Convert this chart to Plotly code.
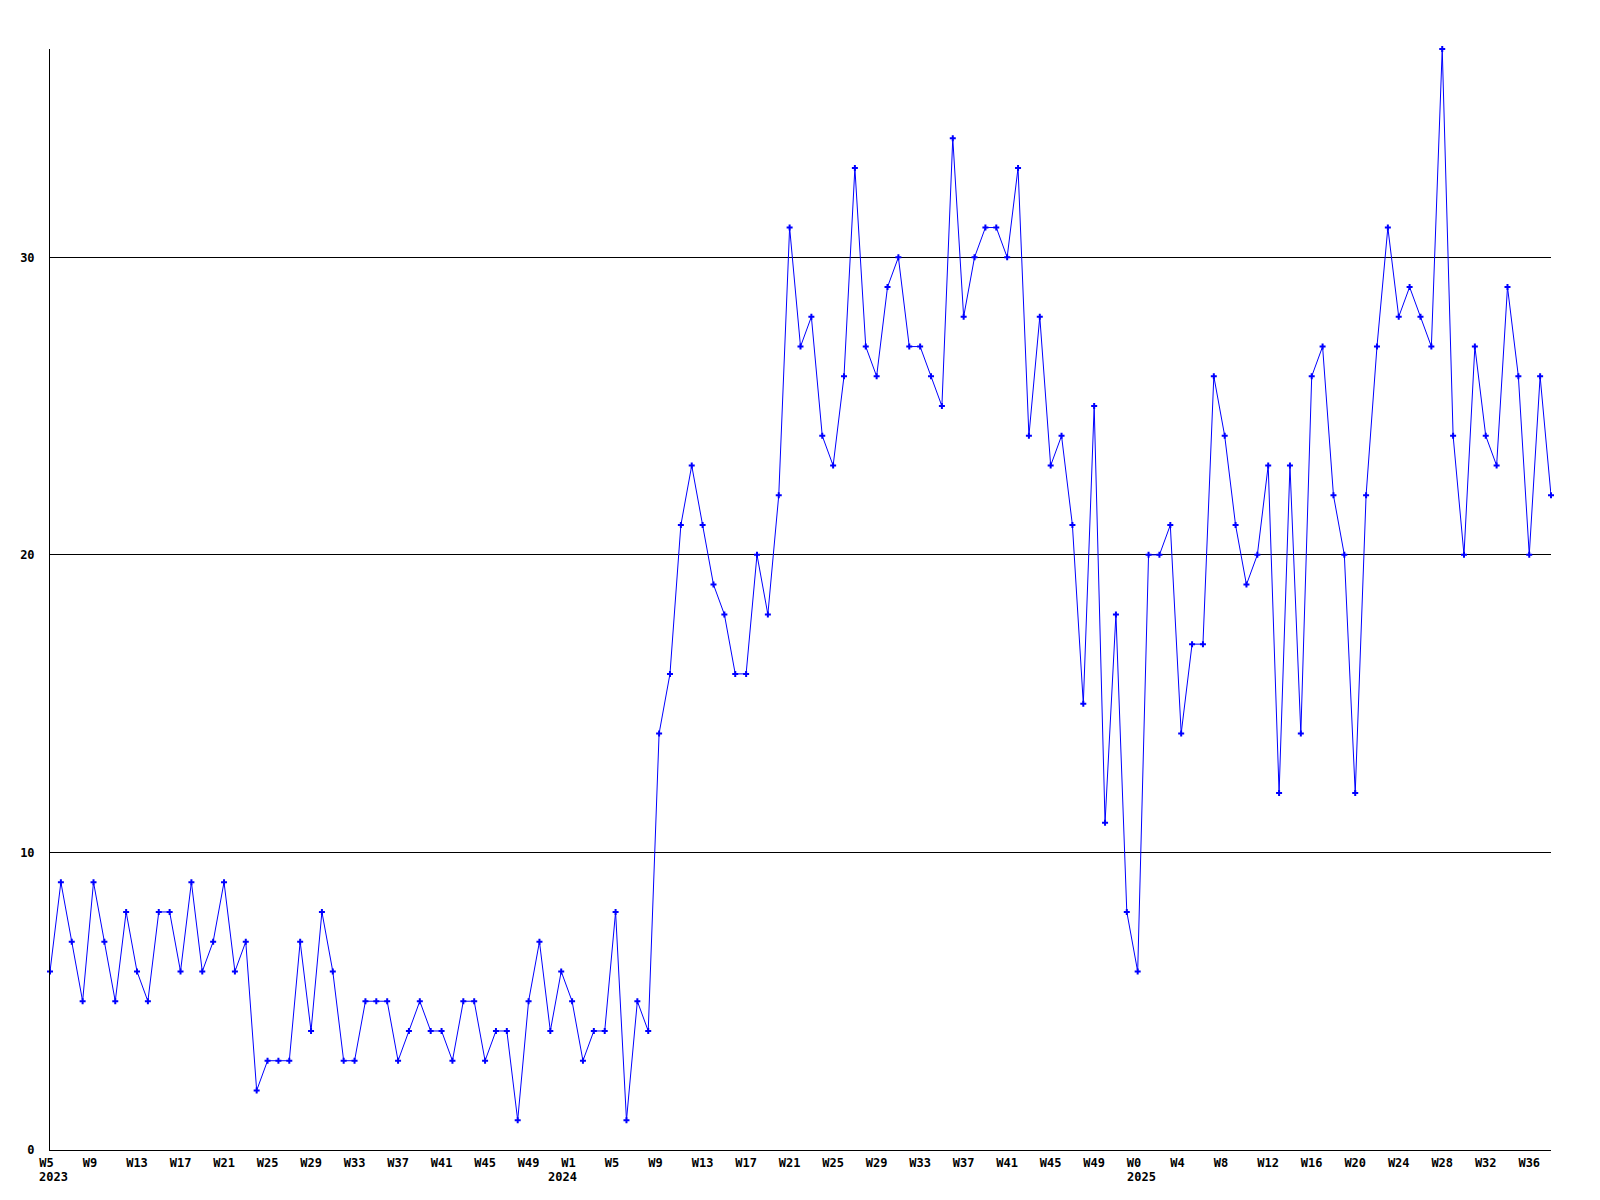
import numpy as np
import plotly.graph_objects as go

# weekly counts, W5 2023 .. W38 2025
VALUES = [
    6, 9, 7, 5, 9, 7, 5, 8, 6, 5, 8, 8, 6, 9, 6, 7, 9, 6, 7, 2,
    3, 3, 3, 7, 4, 8, 6, 3, 3, 5, 5, 5, 3, 4, 5, 4, 4, 3, 5, 5,
    3, 4, 4, 1, 5, 7, 4, 6, 5, 3, 4, 4, 8, 1, 5, 4, 14, 16, 21, 23,
    21, 19, 18, 16, 16, 20, 18, 22, 31, 27, 28, 24, 23, 26, 33, 27, 26, 29, 30, 27,
    27, 26, 25, 34, 28, 30, 31, 31, 30, 33, 24, 28, 23, 24, 21, 15, 25, 11, 18, 8,
    6, 20, 20, 21, 14, 17, 17, 26, 24, 21, 19, 20, 23, 12, 23, 14, 26, 27, 22, 20,
    12, 22, 27, 31, 28, 29, 28, 27, 37, 24, 20, 27, 24, 23, 29, 26, 20, 26, 22,
]

TICK_WEEKS = [
    "W5", "W9", "W13", "W17", "W21", "W25", "W29", "W33", "W37", "W41", "W45", "W49",
    "W1", "W5", "W9", "W13", "W17", "W21", "W25", "W29", "W33", "W37", "W41", "W45", "W49",
    "W0", "W4", "W8", "W12", "W16", "W20", "W24", "W28", "W32", "W36",
]
YEAR_LABELS = ["2023", "2024", "2025"]
YEAR_AT_TICK = [0, 12, 25]
YEAR_XSHIFT = [-13, -26, -13]

FONT = dict(family="DejaVu Sans Mono", size=12, color="black", weight="bold")

x = np.arange(len(VALUES))
tickvals = x[::4][:len(TICK_WEEKS)]
ticktext = [w if len(w) > 2 else w + "\u00a0" for w in TICK_WEEKS]

fig = go.Figure()
fig.add_trace(go.Scatter(
    x=x, y=VALUES, mode="lines+markers", cliponaxis=False,
    line=dict(color="#0000ff", width=1),
    marker=dict(symbol="cross", size=5, color="#0000ff"),
    showlegend=False,
))

for label, t, shift in zip(YEAR_LABELS, YEAR_AT_TICK, YEAR_XSHIFT):
    fig.add_annotation(
        x=tickvals[t], y=0, xref="x", yref="paper", yanchor="top", xanchor="left",
        text=label, showarrow=False, xshift=shift, yshift=-18, font=FONT,
    )

# page body has an 8px margin, so the figure is sized to sit inside the window
fig.update_layout(
    width=1584, height=1184,
    margin=dict(l=42, r=41, t=41, b=42),
    paper_bgcolor="white", plot_bgcolor="white",
    font=FONT,
)
fig.update_xaxes(
    range=[0, len(VALUES) - 1], tickvals=tickvals, ticktext=ticktext,
    showgrid=False, zeroline=False, showline=True, linecolor="black", linewidth=1,
    ticks="", ticklabelstandoff=2, tickfont=FONT,
)
fig.update_yaxes(
    range=[0, max(VALUES)], dtick=10, tick0=0,
    showgrid=True, gridcolor="black", gridwidth=1, zeroline=False,
    showline=True, linecolor="black", linewidth=1,
    ticks="", ticklabelstandoff=12, tickfont=FONT,
)

fig.write_html("out.html")
